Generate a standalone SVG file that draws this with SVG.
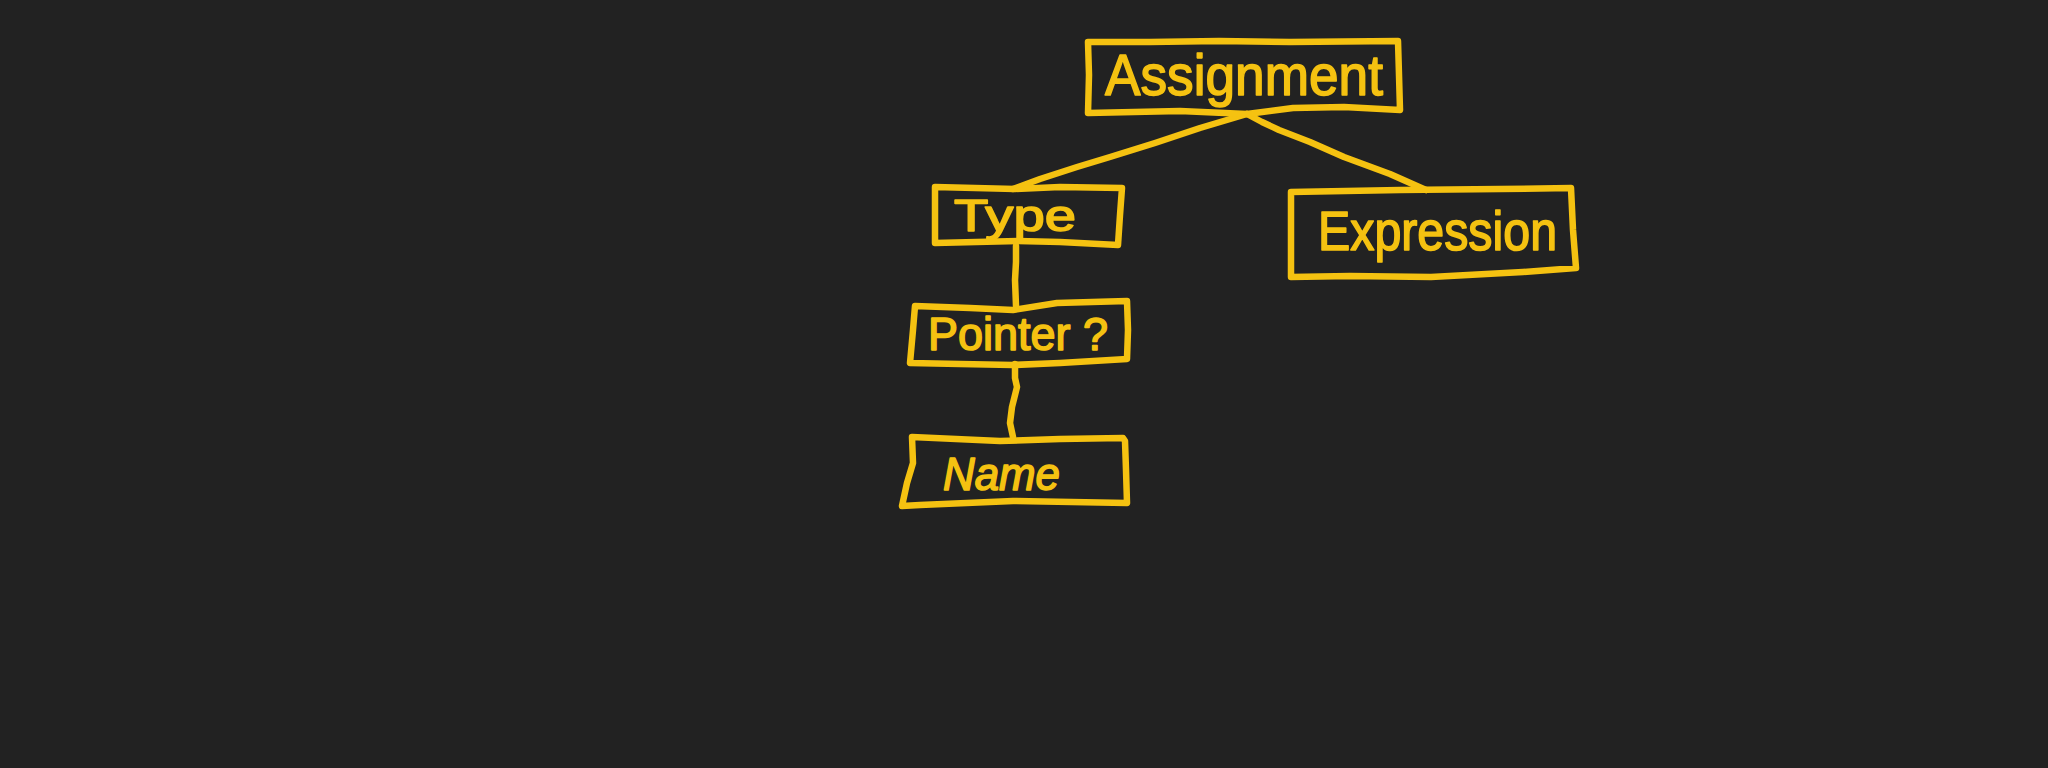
<svg xmlns="http://www.w3.org/2000/svg" width="2048" height="768" viewBox="0 0 2048 768">
<style>
.bx{fill:none;stroke:#F5C211;stroke-width:6.5;stroke-linejoin:round;stroke-linecap:round}
.ln{fill:none;stroke:#F5C211;stroke-width:6.5;stroke-linejoin:round;stroke-linecap:round}
.t{font-family:"Liberation Sans","DejaVu Sans",sans-serif;fill:#F5C211;stroke:#F5C211;stroke-width:1.6;stroke-linejoin:round;font-weight:normal}
</style>
<rect width="2048" height="768" fill="#222222"/>
<g id="connectors">
<path class="ln" d="M1247,114 L1200,128 L1155,143 L1110,157 L1077,167 L1040,179 L1013,189"/>
<path class="ln" d="M1247,114 L1262,122 L1279,130 L1310,142 L1344,157 L1390,174 L1426,190"/>
<path class="ln" d="M1016,246 L1016,262 L1015,280 L1016,306"/>
<path class="ln" d="M1015,364 L1015,378 L1017,387 L1012,407 L1010,423 L1013,437"/>
</g>
<g id="assignment">
<path class="bx" d="M1088,42 L1150,42 L1219,41 L1290,42 L1398,41 L1399,75 L1400,110 L1344,107 L1293,108 L1247,114 L1180,111 L1088,113 L1089,75 Z"/>
<text class="t" x="1105" y="95" font-size="58" textLength="278" lengthAdjust="spacingAndGlyphs">Assignment</text>
</g>
<g id="type">
<path class="bx" d="M935,187 L1015,189 L1060,187 L1122,188 L1120,215 L1118,245 L1060,242 L1018,241 L935,243 L935,215 Z"/>
<text class="t" x="954" y="231" font-size="45" textLength="122" lengthAdjust="spacingAndGlyphs">Type</text>
</g>
<g id="expression">
<path class="bx" d="M1291,192 L1400,190 L1500,189 L1571,188 L1573,230 L1576,268 L1523,272 L1431,277 L1350,276 L1291,277 L1291,235 Z"/>
<text class="t" x="1318" y="250" font-size="55" textLength="239" lengthAdjust="spacingAndGlyphs">Expression</text>
</g>
<g id="pointer">
<path class="bx" d="M915,306 L970,308 L1013,310 L1057,303 L1127,301 L1128,330 L1127,359 L1060,363 L1013,365 L960,364 L910,363 L913,330 Z"/>
<text class="t" x="928" y="350" font-size="46" textLength="180" lengthAdjust="spacingAndGlyphs">Pointer ?</text>
</g>
<g id="name">
<path class="bx" d="M912,437 L1000,441 L1060,439 L1123,438 L1125,441 L1126,470 L1127,503 L1013,501 L920,505 L902,506 L907,483 L913,463 Z"/>
<text class="t" x="943" y="490" font-size="46" font-style="italic" textLength="117" lengthAdjust="spacingAndGlyphs">Name</text>
</g>
</svg>
